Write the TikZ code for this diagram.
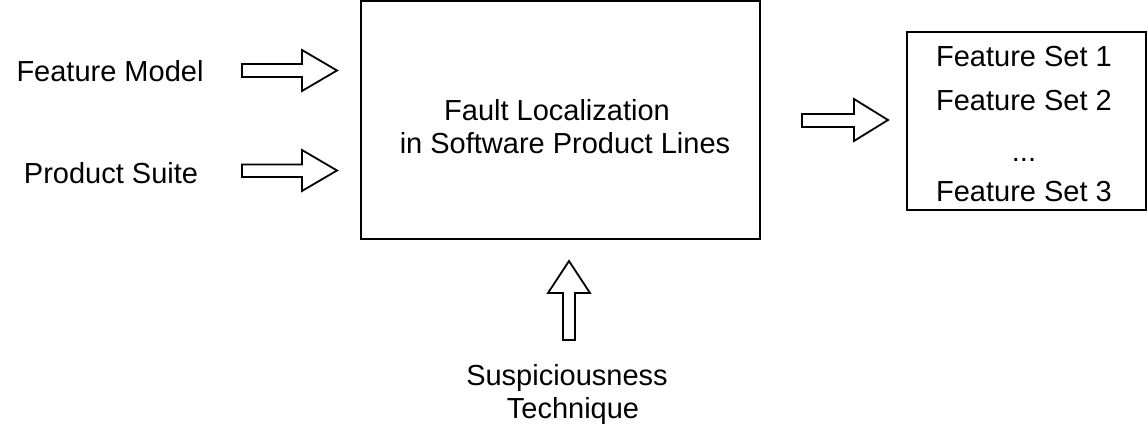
\documentclass[tikz,border=0pt]{standalone}
\usepackage{fontspec}
\setmainfont{Liberation Sans}
\begin{document}
\begin{tikzpicture}[x=1pt,y=-1pt,
  lbl/.style={inner sep=0pt,anchor=base,font=\fontsize{29}{33}\selectfont},
  box/.style={draw,line width=2pt},
  blockarrow/.style={draw,line width=1.8pt,line join=miter,fill=white}]
\useasboundingbox (0,0) rectangle (1148,428);
% boxes
\node[box,minimum width=399pt,minimum height=238pt,inner sep=0pt] (main) at (560,120) {};
\node[box,minimum width=239pt,minimum height=178pt,inner sep=0pt] (out) at (1026,121) {};
% main text
\node[lbl] (t1) at (557,120) {Fault Localization};
\node[lbl] (t2) at (565,153) {in Software Product Lines};
% inputs
\node[lbl] (fm) at (110,81.7) {Feature Model};
\node[lbl] (ps) at (111,183) {Product Suite};
\node[lbl] (s1) at (567,385) {Suspiciousness};
\node[lbl] (s2) at (573,418) {Technique};
% outputs
\node[lbl] (f1) at (1024,66.7) {Feature Set 1};
\node[lbl] (f2) at (1024,110) {Feature Set 2};
\node[lbl] (fd) at (1024,161) {...};
\node[lbl] (f3) at (1024,201.7) {Feature Set 3};
% block arrows
\draw[blockarrow] (242,64) -- (302,64) -- (302,50) -- (337,70.5) -- (302,91) -- (302,77) -- (242,77) -- cycle;
\draw[blockarrow] (242,164.5) -- (302,164.5) -- (302,150) -- (337,170.5) -- (302,191) -- (302,177) -- (242,177) -- cycle;
\draw[blockarrow] (563,340) -- (563,293) -- (548,293) -- (569,261) -- (590,293) -- (575,293) -- (575,340) -- cycle;
\draw[blockarrow] (802,114) -- (854,114) -- (854,99) -- (888,120) -- (854,141) -- (854,127) -- (802,127) -- cycle;
\end{tikzpicture}
\end{document}
